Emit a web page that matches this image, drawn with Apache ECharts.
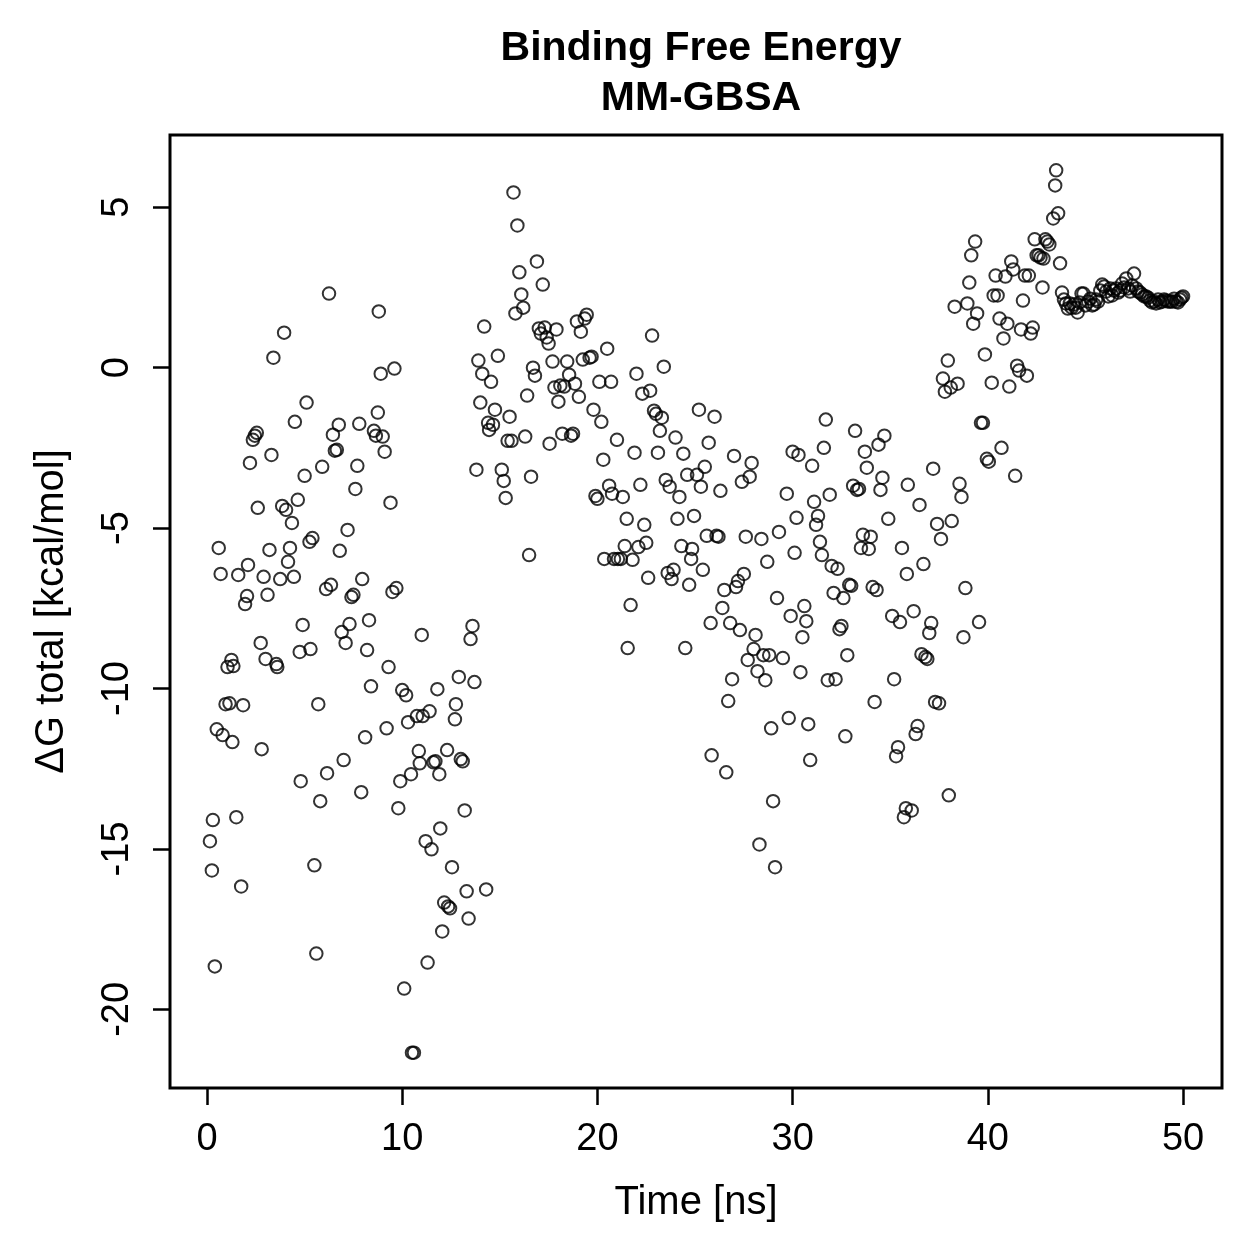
<!DOCTYPE html>
<html>
<head>
<meta charset="utf-8">
<script src="https://cdn.jsdelivr.net/npm/echarts@6/dist/echarts.min.js"></script>
<style>html,body{margin:0;padding:0;background:#fff;}#c{width:1259px;height:1259px;}</style>
</head>
<body>
<div id="c"></div>
<script>
// [time (ns), ΔG total (kcal/mol)]
var seg0 = [[0.15,-14.76],[0.25,-15.67],[0.3,-14.1],[0.4,-18.66],[0.5,-11.27],[0.6,-5.62],[0.7,-6.43],[0.8,-11.45],[0.95,-10.49],[1.05,-9.33],[1.15,-10.46],[1.25,-9.11],[1.3,-11.67],[1.35,-9.3],[1.5,-14.01],[1.6,-6.46],[1.75,-16.17],[1.85,-10.52],[1.95,-7.37],[2.05,-7.12],[2.1,-6.15],[2.2,-2.97],[2.35,-2.25],[2.45,-2.12],[2.55,-2.03],[2.6,-4.37],[2.75,-8.58],[2.8,-11.89],[2.9,-6.52],[3.0,-9.08],[3.1,-7.08],[3.2,-5.68],[3.3,-2.72],[3.4,0.31],[3.55,-9.24],[3.6,-9.33],[3.75,-6.59],[3.85,-4.31],[3.95,1.09],[4.05,-4.43],[4.15,-6.05],[4.25,-5.62],[4.35,-4.84],[4.45,-6.52],[4.5,-1.69],[4.65,-4.12],[4.75,-8.86],[4.8,-12.89],[4.9,-8.02],[5.0,-3.37]];
var seg1 = [[5.1,-1.09],[5.25,-5.43],[5.3,-8.77],[5.4,-5.31],[5.5,-15.51],[5.6,-18.26],[5.7,-10.49],[5.8,-13.51],[5.9,-3.09],[6.1,-6.9],[6.15,-12.64],[6.25,2.31],[6.35,-6.77],[6.45,-2.09],[6.55,-2.59],[6.65,-2.56],[6.75,-1.78],[6.8,-5.71],[6.9,-8.24],[7.0,-12.23],[7.1,-8.58],[7.2,-5.06],[7.3,-7.99],[7.4,-7.15],[7.5,-7.08],[7.6,-3.78],[7.7,-3.06],[7.8,-1.75],[7.9,-13.23],[7.95,-6.59],[8.1,-11.52],[8.2,-8.8],[8.3,-7.87],[8.4,-9.93],[8.55,-1.97],[8.65,-2.12],[8.75,-1.4],[8.8,1.75],[8.9,-0.19],[9.0,-2.15],[9.1,-2.62],[9.2,-11.24],[9.3,-9.33],[9.4,-4.21],[9.5,-6.99],[9.6,-0.03],[9.7,-6.87],[9.8,-13.73],[9.9,-12.89],[10.0,-10.05]];
var seg2 = [[10.1,-19.35],[10.2,-10.21],[10.3,-11.05],[10.45,-12.67],[10.5,-21.35],[10.6,-21.35],[10.75,-10.86],[10.85,-11.95],[10.9,-12.33],[11.0,-8.33],[11.05,-10.86],[11.2,-14.76],[11.3,-18.54],[11.4,-10.71],[11.5,-15.01],[11.6,-12.3],[11.7,-12.27],[11.8,-10.02],[11.9,-12.67],[11.95,-14.36],[12.05,-17.57],[12.15,-16.67],[12.3,-11.92],[12.35,-16.79],[12.45,-16.85],[12.55,-15.57],[12.7,-10.96],[12.75,-10.49],[12.9,-9.64],[13.0,-12.2],[13.1,-12.27],[13.2,-13.8],[13.3,-16.32],[13.4,-17.17],[13.5,-8.46],[13.6,-8.05],[13.7,-9.8],[13.8,-3.18],[13.9,0.22],[14.0,-1.09],[14.1,-0.19],[14.2,1.28],[14.3,-16.26],[14.4,-1.72],[14.45,-1.94],[14.55,-0.44],[14.65,-1.78],[14.75,-1.31],[14.9,0.37],[15.1,-3.18]];
var seg3 = [[15.2,-3.53],[15.3,-4.06],[15.4,-2.28],[15.5,-1.53],[15.6,-2.28],[15.7,5.46],[15.8,1.69],[15.9,4.43],[16.0,2.97],[16.1,2.28],[16.2,1.87],[16.3,-2.15],[16.4,-0.87],[16.5,-5.84],[16.6,-3.4],[16.7,0.0],[16.8,-0.25],[16.9,3.31],[17.0,1.22],[17.1,1.06],[17.2,2.59],[17.3,1.25],[17.4,0.94],[17.5,0.75],[17.55,-2.37],[17.7,0.19],[17.8,-0.62],[17.9,1.19],[18.0,-1.06],[18.1,-0.56],[18.2,-2.06],[18.3,-0.59],[18.45,0.19],[18.55,-0.22],[18.65,-2.12],[18.75,-2.06],[18.85,-0.5],[18.95,1.44],[19.05,-0.91],[19.15,1.12],[19.25,0.25],[19.35,1.53],[19.45,1.65],[19.6,0.31],[19.7,0.34],[19.8,-1.31],[19.9,-4.0],[20.0,-4.09]];
var seg4 = [[20.1,-0.44],[20.2,-1.69],[20.3,-2.87],[20.35,-5.96],[20.5,0.59],[20.6,-3.68],[20.7,-0.44],[20.75,-3.93],[20.85,-5.96],[21.0,-2.25],[21.05,-5.96],[21.2,-5.96],[21.3,-4.03],[21.4,-5.56],[21.5,-4.71],[21.55,-8.74],[21.7,-7.4],[21.8,-5.99],[21.9,-2.65],[22.0,-0.19],[22.1,-5.59],[22.2,-3.65],[22.3,-0.81],[22.4,-4.9],[22.5,-5.46],[22.6,-6.55],[22.7,-0.72],[22.8,1.0],[22.9,-1.34],[23.0,-1.44],[23.1,-2.65],[23.2,-1.97],[23.3,-1.56],[23.4,0.03],[23.5,-3.5],[23.6,-6.4],[23.7,-3.71],[23.8,-6.59],[23.9,-6.3],[24.0,-2.18],[24.1,-4.71],[24.2,-4.03],[24.3,-5.56],[24.4,-2.68],[24.5,-8.74],[24.6,-3.34],[24.7,-6.77],[24.8,-5.96],[24.85,-5.65],[24.95,-4.62]];
var seg5 = [[25.1,-3.34],[25.2,-1.31],[25.3,-3.71],[25.4,-6.3],[25.5,-3.09],[25.6,-5.24],[25.7,-2.34],[25.8,-7.96],[25.85,-12.08],[26.0,-1.53],[26.1,-5.24],[26.2,-5.27],[26.3,-3.84],[26.4,-7.49],[26.5,-6.93],[26.6,-12.61],[26.7,-10.39],[26.8,-7.96],[26.9,-9.71],[27.0,-2.75],[27.1,-6.84],[27.2,-6.65],[27.3,-8.18],[27.4,-3.56],[27.5,-6.43],[27.6,-5.27],[27.7,-9.11],[27.8,-3.4],[27.9,-2.97],[28.0,-8.77],[28.1,-8.33],[28.2,-9.46],[28.3,-14.86],[28.4,-5.34],[28.5,-8.96],[28.6,-9.74],[28.7,-6.05],[28.8,-8.96],[28.9,-11.24],[29.0,-13.51],[29.1,-15.57],[29.2,-7.18],[29.3,-5.12],[29.5,-9.05],[29.7,-3.93],[29.8,-10.92],[29.9,-7.74]];
var seg6 = [[30.0,-2.62],[30.1,-5.77],[30.2,-4.68],[30.3,-2.72],[30.4,-9.49],[30.5,-8.4],[30.6,-7.43],[30.7,-7.9],[30.8,-11.11],[30.9,-12.23],[31.0,-3.06],[31.1,-4.18],[31.2,-4.9],[31.3,-4.62],[31.4,-5.43],[31.5,-5.84],[31.6,-2.5],[31.7,-1.62],[31.8,-9.74],[31.9,-3.96],[32.0,-6.18],[32.1,-7.02],[32.2,-9.71],[32.3,-6.27],[32.4,-8.15],[32.5,-8.05],[32.6,-7.18],[32.7,-11.49],[32.8,-8.96],[32.9,-6.77],[33.0,-6.8],[33.1,-3.68],[33.2,-1.97],[33.3,-3.81],[33.4,-3.78],[33.5,-5.62],[33.6,-5.21],[33.7,-2.62],[33.8,-3.12],[33.9,-5.65],[34.0,-5.27],[34.1,-6.84],[34.2,-10.42],[34.3,-6.93],[34.4,-2.4],[34.5,-3.81],[34.6,-3.43],[34.7,-2.12],[34.9,-4.71]];
var seg7 = [[35.1,-7.74],[35.2,-9.71],[35.3,-12.11],[35.4,-11.83],[35.5,-7.93],[35.6,-5.62],[35.7,-14.01],[35.8,-13.73],[35.85,-6.43],[35.9,-3.65],[36.1,-13.8],[36.2,-7.59],[36.3,-11.42],[36.4,-11.17],[36.5,-4.28],[36.6,-8.93],[36.7,-6.12],[36.8,-9.02],[36.9,-9.08],[37.0,-8.27],[37.1,-7.96],[37.2,-3.15],[37.3,-10.42],[37.4,-4.87],[37.5,-10.46],[37.6,-5.34],[37.7,-0.34],[37.8,-0.75],[37.95,0.22],[38.0,-13.33],[38.1,-0.62],[38.15,-4.78],[38.3,1.9],[38.45,-0.5],[38.55,-3.62],[38.65,-4.03],[38.75,-8.4],[38.85,-6.87],[38.95,2.0],[39.05,2.65],[39.15,3.5],[39.25,1.37],[39.35,3.93],[39.45,1.69],[39.55,-7.93],[39.65,-1.72],[39.75,-1.72],[39.85,0.41],[39.95,-2.84],[40.05,-2.93]];
var seg8 = [[40.2,-0.47],[40.3,2.25],[40.4,2.87],[40.5,2.25],[40.6,1.53],[40.7,-2.5],[40.8,0.91],[40.9,2.84],[41.0,1.37],[41.1,-0.59],[41.2,3.31],[41.3,3.06],[41.4,-3.37],[41.5,0.06],[41.6,-0.09],[41.7,1.19],[41.8,2.09],[41.9,2.87],[42.0,-0.25],[42.1,2.87],[42.2,1.06],[42.3,1.25],[42.4,4.0],[42.5,3.5],[42.6,3.5],[42.7,3.43],[42.8,2.5],[42.85,3.4],[42.95,4.0],[43.05,3.93],[43.15,3.84],[43.35,4.65],[43.45,5.68],[43.5,6.15],[43.6,4.81],[43.7,3.25],[43.8,2.34],[43.9,2.12],[44.0,2.0],[44.1,1.84],[44.2,2.0],[44.3,1.87],[44.4,1.97],[44.5,1.87],[44.6,1.72],[44.7,2.03],[44.8,2.31],[44.9,2.31],[45.0,1.94]];
var seg9 = [[45.14,2.06],[45.25,2.15],[45.35,1.94],[45.45,1.97],[45.55,2.12],[45.65,2.06],[45.76,2.4],[45.86,2.59],[45.96,2.53],[46.06,2.37],[46.17,2.22],[46.27,2.47],[46.37,2.25],[46.47,2.4],[46.57,2.47],[46.68,2.34],[46.78,2.4],[46.88,2.62],[46.98,2.5],[47.09,2.78],[47.19,2.47],[47.29,2.37],[47.39,2.56],[47.49,2.93],[47.6,2.47],[47.7,2.37],[47.8,2.34],[47.9,2.28],[48.01,2.22],[48.11,2.22],[48.21,2.18],[48.31,2.09],[48.41,2.03],[48.52,2.06],[48.62,2.0],[48.72,2.12],[48.82,2.03],[48.93,2.06],[49.03,2.12],[49.13,2.09],[49.23,2.06],[49.34,2.06],[49.44,2.06],[49.54,2.15],[49.64,2.06],[49.74,2.03],[49.85,2.12],[49.92,2.18],[50.0,2.22]];

var xTicks = [0, 10, 20, 30, 40, 50];
var yTicks = [-20, -15, -10, -5, 0, 5];
var titleText = 'Binding Free Energy\nMM-GBSA';
var xName = 'Time [ns]';
var yName = 'ΔG total [kcal/mol]';

var allPoints = [].concat(seg0, seg1, seg2, seg3, seg4, seg5, seg6, seg7, seg8, seg9);

var FONT = '"Liberation Sans", Arial, Helvetica, sans-serif';
var chart = echarts.init(document.getElementById('c'), null, {renderer: 'canvas'});
chart.setOption({
  backgroundColor: '#ffffff',
  animation: false,
  title: {
    text: titleText,
    left: 696,
    top: 19,
    textAlign: 'center',
    textStyle: {fontFamily: FONT, fontWeight: 'bold', fontSize: 41, color: '#000', lineHeight: 50}
  },
  grid: {
    left: 170, top: 135, width: 1052, height: 953,
    show: true, borderColor: '#000', borderWidth: 3, backgroundColor: 'transparent'
  },
  xAxis: {
    type: 'value', min: -1.896, max: 51.996,
    name: xName, nameLocation: 'middle', nameGap: 95,
    nameTextStyle: {fontFamily: FONT, fontSize: 40, color: '#000'},
    axisLine: {show: false, onZero: false},
    splitLine: {show: false},
    axisTick: {show: true, inside: false, customValues: xTicks, length: 17, lineStyle: {color: '#000', width: 2.5}},
    axisLabel: {show: true, customValues: xTicks, margin: 33, fontFamily: FONT, fontSize: 38, color: '#000'}
  },
  yAxis: {
    type: 'value', min: -22.45, max: 7.25,
    name: yName, nameLocation: 'middle', nameGap: 98, nameRotate: 90,
    nameTextStyle: {fontFamily: FONT, fontSize: 40, color: '#000'},
    axisLine: {show: false, onZero: false},
    splitLine: {show: false},
    axisTick: {show: true, inside: false, customValues: yTicks, length: 17, lineStyle: {color: '#000', width: 2.5}},
    axisLabel: {show: true, customValues: yTicks, rotate: 90, margin: 33, fontFamily: FONT, fontSize: 38, color: '#000'}
  },
  series: [{
    type: 'scatter',
    data: allPoints,
    symbol: 'circle',
    symbolSize: 12.5,
    itemStyle: {color: 'rgba(0,0,0,0)', borderColor: '#000', borderWidth: 2},
    emphasis: {disabled: true}
  }]
});
</script>
</body>
</html>
